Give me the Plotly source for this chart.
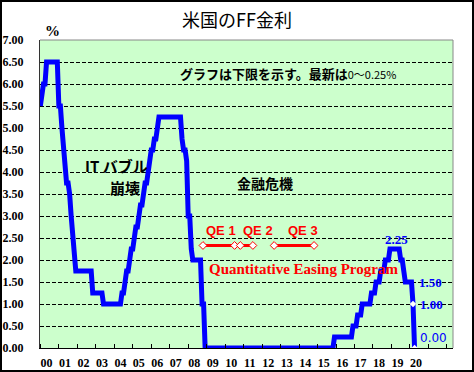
import plotly.graph_objects as go

# ---------------- data ----------------
year_labels = ["00", "01", "02", "03", "04", "05", "06", "07", "08", "09", "10",
               "11", "12", "13", "14", "15", "16", "17", "18", "19", "20"]
first_year = 2000

# monthly FF rate (lower bound), Jan..Dec
rate_2000 = [5.5, 5.75, 6.0, 6.0, 6.5, 6.5, 6.5, 6.5, 6.5, 6.5, 6.5, 6.5]
rate_2001 = [5.5, 5.5, 5.0, 4.5, 4.0, 3.75, 3.75, 3.5, 3.0, 2.5, 2.0, 1.75]
rate_2002 = [1.75, 1.75, 1.75, 1.75, 1.75, 1.75, 1.75, 1.75, 1.75, 1.75, 1.25, 1.25]
rate_2003 = [1.25, 1.25, 1.25, 1.25, 1.25, 1.0, 1.0, 1.0, 1.0, 1.0, 1.0, 1.0]
rate_2004 = [1.0, 1.0, 1.0, 1.0, 1.0, 1.25, 1.25, 1.5, 1.75, 1.75, 2.0, 2.25]
rate_2005 = [2.25, 2.5, 2.75, 2.75, 3.0, 3.25, 3.25, 3.5, 3.75, 3.75, 4.0, 4.25]
rate_2006 = [4.5, 4.5, 4.75, 4.75, 5.0, 5.25, 5.25, 5.25, 5.25, 5.25, 5.25, 5.25]
rate_2007 = [5.25, 5.25, 5.25, 5.25, 5.25, 5.25, 5.25, 5.25, 4.75, 4.5, 4.5, 4.25]
rate_2008 = [3.0, 3.0, 2.25, 2.0, 2.0, 2.0, 2.0, 2.0, 2.0, 1.0, 1.0, 0.0]
rate_2009 = [0.0, 0.0, 0.0, 0.0, 0.0, 0.0, 0.0, 0.0, 0.0, 0.0, 0.0, 0.0]
rate_2010 = [0.0, 0.0, 0.0, 0.0, 0.0, 0.0, 0.0, 0.0, 0.0, 0.0, 0.0, 0.0]
rate_2011 = [0.0, 0.0, 0.0, 0.0, 0.0, 0.0, 0.0, 0.0, 0.0, 0.0, 0.0, 0.0]
rate_2012 = [0.0, 0.0, 0.0, 0.0, 0.0, 0.0, 0.0, 0.0, 0.0, 0.0, 0.0, 0.0]
rate_2013 = [0.0, 0.0, 0.0, 0.0, 0.0, 0.0, 0.0, 0.0, 0.0, 0.0, 0.0, 0.0]
rate_2014 = [0.0, 0.0, 0.0, 0.0, 0.0, 0.0, 0.0, 0.0, 0.0, 0.0, 0.0, 0.0]
rate_2015 = [0.0, 0.0, 0.0, 0.0, 0.0, 0.0, 0.0, 0.0, 0.0, 0.0, 0.0, 0.25]
rate_2016 = [0.25, 0.25, 0.25, 0.25, 0.25, 0.25, 0.25, 0.25, 0.25, 0.25, 0.25, 0.5]
rate_2017 = [0.5, 0.5, 0.75, 0.75, 0.75, 1.0, 1.0, 1.0, 1.0, 1.0, 1.0, 1.25]
rate_2018 = [1.25, 1.25, 1.5, 1.5, 1.5, 1.75, 1.75, 1.75, 2.0, 2.0, 2.0, 2.25]
rate_2019 = [2.25, 2.25, 2.25, 2.25, 2.25, 2.25, 2.0, 2.0, 1.75, 1.5, 1.5, 1.5]
rate_2020 = [1.5, 1.5, 1.0, 0.0]

rates_by_year = [rate_2000, rate_2001, rate_2002, rate_2003, rate_2004, rate_2005,
                 rate_2006, rate_2007, rate_2008, rate_2009, rate_2010, rate_2011,
                 rate_2012, rate_2013, rate_2014, rate_2015, rate_2016, rate_2017,
                 rate_2018, rate_2019, rate_2020]

# QE programmes (decimal years) and the level the bars are drawn at
qe_names = ["QE 1", "QE 2", "QE 3"]
qe_start = [2008.80, 2010.82, 2012.65]
qe_end = [2010.51, 2011.50, 2014.81]
qe_level = 2.33

# ---------------- build series ----------------
x_vals, y_vals = [], []
for i, vals in enumerate(rates_by_year):
    for m, v in enumerate(vals):
        x_vals.append(first_year + i + m / 12.0)
        y_vals.append(v)

BLUE = "#0000FF"
RED = "#FF0000"
SERIF = "'Times New Roman', 'Liberation Serif', serif"
CJK = "'Noto Sans CJK JP'"

fig = go.Figure()

fig.add_trace(go.Scatter(x=x_vals, y=y_vals, mode="lines",
                         line=dict(color=BLUE, width=5), hoverinfo="skip"))
# small white point markers on the last two points
fig.add_trace(go.Scatter(x=x_vals[-2:], y=y_vals[-2:], mode="markers",
                         marker=dict(symbol="diamond", size=5, color="white",
                                     line=dict(width=0)), hoverinfo="skip"))

for s, e in zip(qe_start, qe_end):
    fig.add_trace(go.Scatter(x=[s, e], y=[qe_level, qe_level], mode="lines+markers",
                             line=dict(color=RED, width=3),
                             marker=dict(symbol="diamond", size=6, color="white",
                                         line=dict(color=RED, width=1)),
                             hoverinfo="skip"))

n_years = len(year_labels)
fig.update_layout(
    width=474, height=372,
    margin=dict(l=40, r=21, t=40, b=24),
    paper_bgcolor="white", plot_bgcolor="#CCFFCC",
    showlegend=False,
    title=dict(text="米国のFF金利", x=0.5, xref="container", xanchor="center",
               y=1 - 21 / 372, yref="container", yanchor="middle",
               font=dict(family=CJK, size=18, color="black")),
    xaxis=dict(range=[1999.98, 2022.33], automargin=False,
               tickmode="array",
               tickvals=[first_year + i + 0.33 for i in range(n_years)],
               ticktext=year_labels, ticks="", showgrid=False, zeroline=False,
               showline=True, linecolor="black", linewidth=1,
               tickfont=dict(family=SERIF, size=12, color="black", weight="bold"),
               ticklabelstandoff=4,
               minor=dict(ticks="inside", ticklen=4, tickcolor="black", tickwidth=1,
                          tick0=first_year, dtick=1, showgrid=False)),
    yaxis=dict(range=[0, 7], automargin=False, tickmode="array",
               tickvals=[k * 0.5 for k in range(15)], tickformat=".2f",
               showgrid=True, gridcolor="black", gridwidth=1, griddash="4px,2px",
               zeroline=False, showline=True, linecolor="#333333", linewidth=1,
               ticks="", ticklabelstandoff=13,
               tickfont=dict(family=SERIF, size=12, color="black", weight="bold")),
)

# plot frame top / right (grey)
fig.add_shape(type="line", xref="x domain", yref="y domain", x0=0, x1=1, y0=1, y1=1,
              line=dict(color="#888888", width=1))
fig.add_shape(type="line", xref="x domain", yref="y domain", x0=1, x1=1, y0=0, y1=1,
              line=dict(color="#888888", width=1))
# outer black frame of the whole picture
pw = 474 - 40 - 21
ph = 372 - 40 - 24
fig.add_shape(type="rect", xref="paper", yref="paper",
              x0=-(40 - 1) / pw, x1=1 + (21 - 1) / pw,
              y0=-(24 - 1) / ph, y1=1 + (40 - 1) / ph,
              line=dict(color="black", width=2), fillcolor="rgba(0,0,0,0)")

ann = []
ann.append(dict(text="<b>%</b>", xref="paper", yref="paper",
                x=(43 - 40) / pw, y=1 + (40 - 20.5) / ph,
                showarrow=False, font=dict(family=SERIF, size=15, color="black")))
ann.append(dict(text="<b>グラフは下限を示す。最新は</b><span style='font-size:11px'>0～0.25%</span>",
                x=2013.38, y=6.25, showarrow=False,
                font=dict(family=CJK, size=13, color="black")))
ann.append(dict(text="<b>IT バブル</b>", x=2004.11, y=4.14, showarrow=False,
                font=dict(family=CJK, size=15, color="black")))
ann.append(dict(text="<b>崩壊</b>", x=2004.6, y=3.64, showarrow=False,
                font=dict(family=CJK, size=15, color="black")))
ann.append(dict(text="<b>金融危機</b>", x=2012.17, y=3.75, showarrow=False,
                font=dict(family=CJK, size=14, color="black")))
for name, lx in zip(qe_names, [2009.79, 2011.79, 2014.22]):
    ann.append(dict(text="<b>%s</b>" % name, x=lx, y=2.66, showarrow=False,
                    font=dict(family="'Liberation Sans'", size=13, color=RED)))
ann.append(dict(text="<b>Quantitative Easing Program</b>", x=2014.25, y=1.80,
                showarrow=False, font=dict(family=SERIF, size=15, color=RED)))

# data labels
peak = max(rate_2019)
ann.append(dict(text="<b>%.2f</b>" % peak, x=2019.25, y=peak, yshift=10,
                showarrow=False, font=dict(family=SERIF, size=13, color=BLUE)))
ann.append(dict(text="<b>%.2f</b>" % rate_2020[1], x=x_vals[-3], y=rate_2020[1],
                xshift=19, showarrow=False, font=dict(family=SERIF, size=13, color=BLUE)))
ann.append(dict(text="<b>%.2f</b>" % rate_2020[2], x=x_vals[-2], y=rate_2020[2],
                xshift=18, showarrow=False, font=dict(family=SERIF, size=13, color=BLUE)))
ann.append(dict(text="%.2f" % rate_2020[3], x=x_vals[-1], y=rate_2020[3],
                xshift=19, yshift=10, showarrow=False,
                font=dict(family="'DejaVu Sans'", size=12, color=BLUE)))
fig.update_layout(annotations=ann)

fig.write_html("out.html", config={"displayModeBar": False},
               post_script="document.body.style.margin='0';")
